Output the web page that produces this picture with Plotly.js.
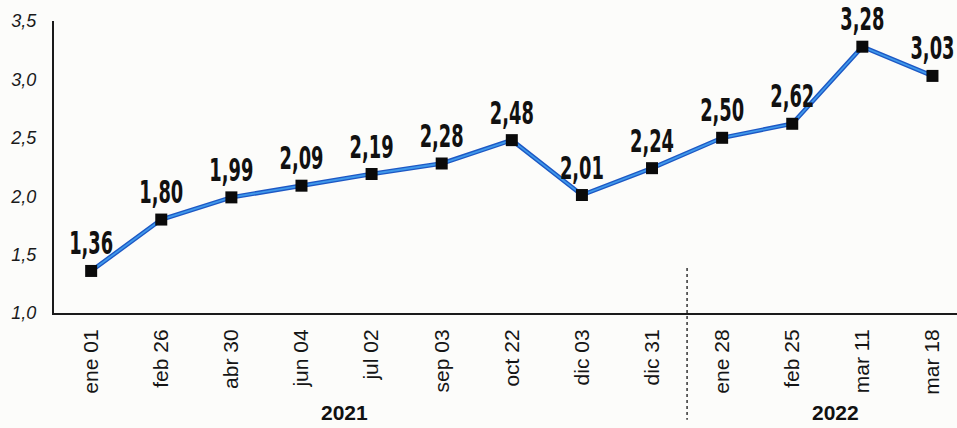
<!DOCTYPE html>
<html>
<head>
<meta charset="utf-8">
<script src="https://cdn.plot.ly/plotly-3.0.1.min.js"></script>
<style>html,body{margin:0;padding:0;background:#fcfcfa;}#chart{width:957px;height:428px;}</style>
</head>
<body>
<div id="chart"></div>
<script>
const categories = ["ene 01","feb 26","abr 30","jun 04","jul 02","sep 03","oct 22","dic 03","dic 31","ene 28","feb 25","mar 11","mar 18"];
const values = [1.36,1.80,1.99,2.09,2.19,2.28,2.48,2.01,2.24,2.50,2.62,3.28,3.03];
const valueLabels = ["1,36","1,80","1,99","2,09","2,19","2,28","2,48","2,01","2,24","2,50","2,62","3,28","3,03"];
const yTickVals = [1.0,1.5,2.0,2.5,3.0,3.5];
const yTickText = ["1,0","1,5","2,0","2,5","3,0","3,5"];
const years = ["2021","2022"];
const yearPos = [3.62,10.61];
const splitPos = 8.5;

const idx = categories.map((c,i)=>i);

const traces = [
  {x: idx, y: values, mode: 'lines', line: {color: '#1d58c4', width: 4.5}, hoverinfo: 'skip', showlegend: false},
  {x: idx, y: values, mode: 'lines+markers+text', line: {color: '#3f98ea', width: 1.8},
   marker: {symbol: 'square', size: 12, color: '#0a0a0a'},
   text: valueLabels, textposition: 'top center',
   textfont: {family: '"DejaVu Sans Condensed", "DejaVu Sans", sans-serif', size: 32, weight: 700, color: '#111'},
   cliponaxis: false, showlegend: false}
];

const layout = {
  width: 957, height: 428,
  margin: {l: 54, r: 0, t: 21, b: 115},
  paper_bgcolor: '#fcfcfa', plot_bgcolor: 'rgba(0,0,0,0)',
  xaxis: {range: [-0.53, 12.35], tickvals: idx, ticktext: categories, tickangle: -90,
    tickfont: {family: '"Liberation Sans", Arial, sans-serif', size: 21, color: '#151515'},
    showgrid: false, zeroline: false, showline: true, linecolor: '#1a1a1a', linewidth: 2,
    ticks: '', ticklabelstandoff: 6, fixedrange: true},
  yaxis: {range: [1, 3.5], tickvals: yTickVals, ticktext: yTickText,
    tickfont: {family: '"Liberation Sans", Arial, sans-serif', size: 18, style: 'italic', color: '#1a1a1a'},
    showgrid: false, zeroline: false, showline: true, linecolor: '#1a1a1a', linewidth: 2,
    ticks: '', ticklabelstandoff: 12, fixedrange: true},
  shapes: [
    {type: 'line', xref: 'x', yref: 'paper', x0: splitPos, x1: splitPos, y0: 0.154, y1: -0.366,
     line: {color: '#333', width: 1.5, dash: 'dot'}}
  ],
  annotations: years.map((t,i)=>({text: '<b>'+t+'</b>', xref: 'x', yref: 'paper', x: yearPos[i], y: -0.388,
    showarrow: false, font: {family: '"Liberation Sans", Arial, sans-serif', size: 21, color: '#111'}, yanchor: 'bottom'}))
};

Plotly.newPlot('chart', traces, layout, {displayModeBar: false, staticPlot: true}).then(() => {
  document.querySelectorAll('#chart .textpoint text').forEach(t => {
    const x = parseFloat(t.getAttribute('x'));
    const y = parseFloat(t.getAttribute('y'));
    t.setAttribute('transform', `translate(${x},${y}) scale(0.62,1) translate(${-x},${-y})`);
  });
});
</script>
</body>
</html>
